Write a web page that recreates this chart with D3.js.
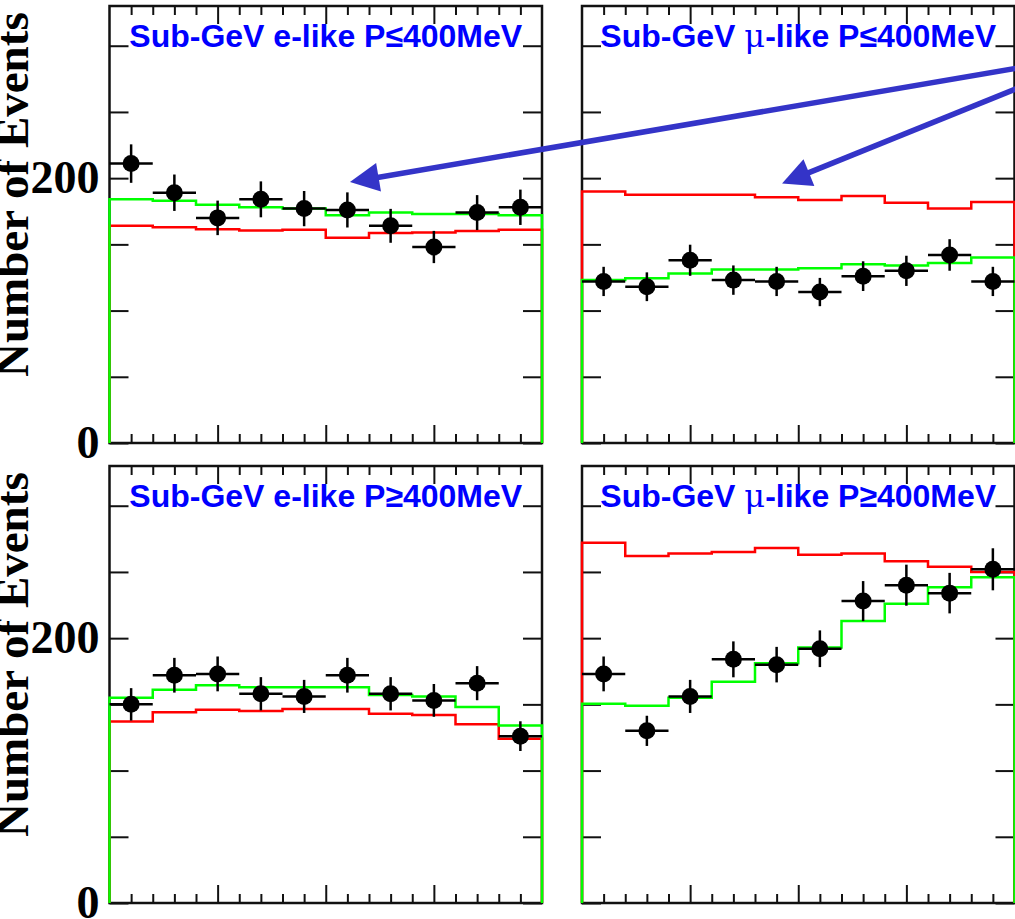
<!DOCTYPE html>
<html lang="en">
<head>
<meta charset="utf-8">
<title>Sub-GeV zenith angle distributions</title>
<script src="https://cdnjs.cloudflare.com/ajax/libs/d3/7.8.5/d3.min.js"></script>
<style>
  body { margin: 0; background: #fff; }
  svg { display: block; }
</style>
</head>
<body>
<div class="chart"></div>
<script>
var svgWidth = 1015;
var svgHeight = 919;

// cos(zenith) binning
var binEdges = [-1, -0.8, -0.6, -0.4, -0.2, 0, 0.2, 0.4, 0.6, 0.8, 1];
var binCenters = [-0.9, -0.7, -0.5, -0.3, -0.1, 0.1, 0.3, 0.5, 0.7, 0.9];

var yTicks = [0, 50, 100, 150, 200, 250, 300];
var yLabels = [0, 200];
var xMajorTicks = [-0.5, 0, 0.5];
var xMinorTicks = [-0.9, -0.8, -0.7, -0.6, -0.4, -0.3, -0.2, -0.1,
                   0.1, 0.2, 0.3, 0.4, 0.6, 0.7, 0.8, 0.9];

var titles = ["Sub-GeV e-like P≤400MeV", "Sub-GeV μ-like P≤400MeV",
              "Sub-GeV e-like P≥400MeV", "Sub-GeV μ-like P≥400MeV"];

// data points, best fit (green) and no oscillation (red) per panel
var eLowData   = [211, 189, 170, 184, 177, 176, 164, 148, 174, 178];
var eLowFit    = [184, 183, 180, 178, 177, 172, 174, 173, 173, 172];
var eLowNoOsc  = [164, 163, 161.5, 160.5, 161, 155, 158.5, 159, 160, 161];

var muLowData  = [122, 118, 138, 123, 122, 114, 126, 130, 142, 122];
var muLowFit   = [123, 124.5, 128, 131, 131, 132, 135, 134, 136, 140];
var muLowNoOsc = [190, 187.5, 187.5, 187.5, 185.5, 183.5, 186.5, 181.5, 177, 182];

var eHighData  = [150, 172, 173, 158, 156, 172, 158, 153, 166, 126];
var eHighFit   = [155, 161, 164.5, 163, 163, 163, 157, 156, 148, 134];
var eHighNoOsc = [137, 144, 146, 145, 146.5, 146.5, 143, 142, 135, 124];

var muHighData  = [173, 130, 156, 184, 180, 192, 228, 240, 234, 252];
var muHighFit   = [150.5, 149, 155, 167, 181, 193, 213, 226, 238.5, 246];
var muHighNoOsc = [272, 262, 264, 265, 268, 263, 264, 258, 254, 250];

var panels = [
  { title: titles[0], col: 0, row: 0, data: eLowData,   fit: eLowFit,   noosc: eLowNoOsc },
  { title: titles[1], col: 1, row: 0, data: muLowData,  fit: muLowFit,  noosc: muLowNoOsc },
  { title: titles[2], col: 0, row: 1, data: eHighData,  fit: eHighFit,  noosc: eHighNoOsc },
  { title: titles[3], col: 1, row: 1, data: muHighData, fit: muHighFit, noosc: muHighNoOsc }
];

// arrows: tip inside a panel, tail at the right edge (top-right panel coords)
var arrows = [
  { tipPanel: 0, tip: [0.112, 197], tail: [1.0, 284] },
  { tipPanel: 1, tip: [-0.075, 196], tail: [1.0, 270] }
];

var colX = [109.5, 582];
var rowY = [6, 466];
var panelW = 432.5;
var panelH = 437;

var x = d3.scaleLinear().domain([-1, 1]).range([0, panelW]);
var y = d3.scaleLinear().domain([0, 330]).range([panelH, 0]);

var svg = d3.select(".chart")
  .append("svg")
  .attr("width", svgWidth)
  .attr("height", svgHeight);

function histPoints(vals) {
  var pts = [[binEdges[0], 0]];
  vals.forEach(function (v, i) {
    pts.push([binEdges[i], v]);
    pts.push([binEdges[i + 1], v]);
  });
  pts.push([binEdges[binEdges.length - 1], 0]);
  return pts;
}

var histLine = d3.line()
  .x(d => x(d[0]))
  .y(d => y(d[1]));

panels.forEach(function (p) {
  var g = svg.append("g")
    .attr("transform", `translate(${colX[p.col]}, ${rowY[p.row]})`);

  // frame
  g.append("rect")
    .attr("width", panelW)
    .attr("height", panelH)
    .attr("fill", "none")
    .attr("stroke", "#111")
    .attr("stroke-width", 2.5);

  // ticks
  var tickGroups = [
    g.append("g").call(d3.axisLeft(y).tickValues(yTicks).tickSize(-19).tickFormat("")),
    g.append("g").attr("transform", `translate(${panelW},0)`)
      .call(d3.axisRight(y).tickValues(yTicks).tickSize(-19).tickFormat("")),
    g.append("g").attr("transform", `translate(0,${panelH})`)
      .call(d3.axisBottom(x).tickValues(xMajorTicks).tickSize(-18).tickFormat("")),
    g.append("g").attr("transform", `translate(0,${panelH})`)
      .call(d3.axisBottom(x).tickValues(xMinorTicks).tickSize(-9).tickFormat("")),
    g.append("g").call(d3.axisTop(x).tickValues(xMajorTicks).tickSize(-18).tickFormat("")),
    g.append("g").call(d3.axisTop(x).tickValues(xMinorTicks).tickSize(-9).tickFormat(""))
  ];
  tickGroups.forEach(function (t) {
    t.select(".domain").remove();
    t.selectAll("line").attr("stroke", "#111").attr("stroke-width", 2);
  });

  // tick labels on the left column only
  if (p.col === 0) {
    var lab = g.append("g")
      .call(d3.axisLeft(y).tickValues(yLabels).tickSize(0).tickPadding(10));
    lab.select(".domain").remove();
    lab.selectAll("text")
      .attr("font-family", "'Liberation Serif', 'Times New Roman', serif")
      .attr("font-weight", "bold")
      .attr("font-size", 46)
      .attr("fill", "#000");
  }

  // histograms: no oscillation (red) then best fit (green)
  g.append("path")
    .attr("d", histLine(histPoints(p.noosc)))
    .attr("fill", "none")
    .attr("stroke", "#ff0000")
    .attr("stroke-width", 2.5);

  g.append("path")
    .attr("d", histLine(histPoints(p.fit)))
    .attr("fill", "none")
    .attr("stroke", "#00ff00")
    .attr("stroke-width", 2.5);

  // data points with errors
  var pts = g.selectAll(".pt")
    .data(p.data.map((v, i) => ({ c: binCenters[i], v: v })))
    .enter().append("g").attr("class", "pt");

  pts.append("line")
    .attr("x1", d => x(d.c - 0.1))
    .attr("x2", d => x(d.c + 0.1))
    .attr("y1", d => y(d.v))
    .attr("y2", d => y(d.v))
    .attr("stroke", "#000").attr("stroke-width", 2.5);

  pts.append("line")
    .attr("x1", d => x(d.c))
    .attr("x2", d => x(d.c))
    .attr("y1", d => y(d.v - Math.sqrt(d.v)))
    .attr("y2", d => y(d.v + Math.sqrt(d.v)))
    .attr("stroke", "#000").attr("stroke-width", 2.5);

  pts.append("circle")
    .attr("cx", d => x(d.c))
    .attr("cy", d => y(d.v))
    .attr("r", 8.5)
    .attr("fill", "#000");

  // title
  var parts = p.title.split("μ");
  var t = g.append("text")
    .attr("x", panelW / 2)
    .attr("y", 41)
    .attr("text-anchor", "middle")
    .attr("font-family", "'Liberation Sans', Arial, Helvetica, sans-serif")
    .attr("font-weight", "bold")
    .attr("font-size", 32)
    .attr("fill", "#0000ff");
  t.append("tspan").text(parts[0]);
  if (parts.length > 1) {
    t.append("tspan")
      .attr("font-family", "'DejaVu Serif', 'Liberation Serif', serif")
      .attr("font-weight", "normal")
      .text("μ");
    t.append("tspan").text(parts[1]);
  }
});

// y-axis titles
rowY.forEach(function (ry) {
  svg.append("text")
    .attr("transform", `translate(28, ${ry + 371}) rotate(-90)`)
    .attr("font-family", "'Liberation Serif', 'Times New Roman', serif")
    .attr("font-weight", "bold")
    .attr("font-size", 47)
    .attr("fill", "#000")
    .text("Number of Events");
});

// annotation arrows
var arrowColor = "#3434c8";
arrows.forEach(function (a) {
  var tp = panels[a.tipPanel];
  var tx = colX[tp.col] + x(a.tip[0]), ty = rowY[tp.row] + y(a.tip[1]);
  var sx = colX[1] + x(a.tail[0]) + 10, sy = rowY[0] + y(a.tail[1]);
  var dx = sx - tx, dy = sy - ty, len = Math.sqrt(dx * dx + dy * dy);
  var ux = dx / len, uy = dy / len;
  var headL = 29, headW = 14.5;
  var bx = tx + ux * headL, by = ty + uy * headL;

  svg.append("line")
    .attr("x1", sx).attr("y1", sy)
    .attr("x2", bx - ux * 4).attr("y2", by - uy * 4)
    .attr("stroke", arrowColor)
    .attr("stroke-width", 5.5);

  svg.append("polygon")
    .attr("points", [
      [tx, ty],
      [bx - uy * headW, by + ux * headW],
      [bx + uy * headW, by - ux * headW]
    ].map(q => q.join(",")).join(" "))
    .attr("fill", arrowColor);
});
</script>
</body>
</html>
